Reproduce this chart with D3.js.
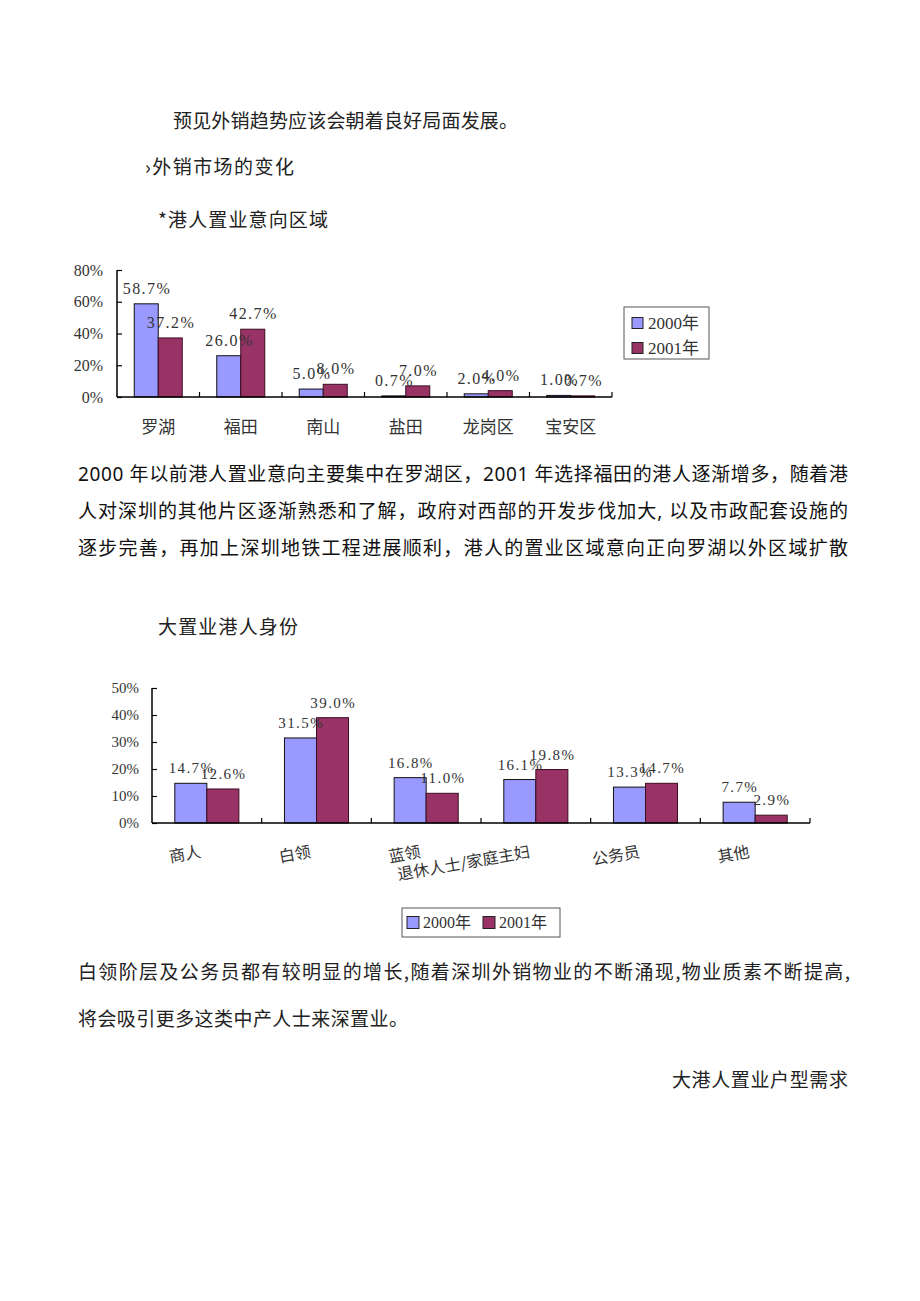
<!DOCTYPE html>
<html>
<head>
<meta charset="utf-8">
<script src="https://cdn.jsdelivr.net/npm/d3@7"></script>
<style>
html,body{margin:0;padding:0;background:#fff;}
svg{display:block;}
</style>
</head>
<body>
<svg id="page" width="920" height="1301"></svg>
<script>
// ---- Data ----
const series = ["2000年", "2001年"];
const regionCats = ["罗湖", "福田", "南山", "盐田", "龙岗区", "宝安区"];
const region2000 = [58.7, 26.0, 5.0, 0.7, 2.0, 1.0];
const region2001 = [37.2, 42.7, 8.0, 7.0, 4.0, 0.7];
const regionTicks = [0, 20, 40, 60, 80];

const idCats = ["商人", "白领", "蓝领", "退休人士/家庭主妇", "公务员", "其他"];
const id2000 = [14.7, 31.5, 16.8, 16.1, 13.3, 7.7];
const id2001 = [12.6, 39.0, 11.0, 19.8, 14.7, 2.9];
const idTicks = [0, 10, 20, 30, 40, 50];

const colors = ["#9999FF", "#993366"];

const svg = d3.select("#page");
const CJK = "'Noto Sans CJK SC', sans-serif";
const SERIF = "'Liberation Serif', 'Noto Sans CJK SC', serif";
const BODY = "'Noto Sans', 'Noto Sans CJK SC', sans-serif";

// ---- Page text ----
function txt(x, y, s, size, opts = {}) {
  const t = svg.append("text").attr("x", x).attr("y", y)
    .attr("font-family", opts.family || CJK)
    .attr("font-size", size)
    .attr("fill", opts.fill || "#222")
    .attr("dominant-baseline", "central")
    .text(s);
  if (opts.len) t.attr("textLength", opts.len).attr("lengthAdjust", "spacing");
  if (opts.anchor) t.attr("text-anchor", opts.anchor);
  return t;
}
txt(173, 119, "预见外销趋势应该会朝着良好局面发展。", 19, {len: 345});
txt(145, 165, "›外销市场的变化", 19, {len: 149});
txt(158, 218, "*港人置业意向区域", 19, {len: 170});

txt(78, 474, "2000 年以前港人置业意向主要集中在罗湖区，2001 年选择福田的港人逐渐增多，随着港", 19, {family: BODY, len: 770, fill: "#111"});
txt(78, 511, "人对深圳的其他片区逐渐熟悉和了解，政府对西部的开发步伐加大, 以及市政配套设施的", 19, {family: BODY, len: 770, fill: "#111"});
txt(78, 548, "逐步完善，再加上深圳地铁工程进展顺利，港人的置业区域意向正向罗湖以外区域扩散", 19, {family: BODY, len: 770, fill: "#111"});

txt(158, 625, "大置业港人身份", 19, {len: 140});

txt(78, 970, "白领阶层及公务员都有较明显的增长,随着深圳外销物业的不断涌现,物业质素不断提高,", 19, {len: 772});
txt(78, 1017, "将会吸引更多这类中产人士来深置业。", 19, {len: 330});
txt(848, 1078, "大港人置业户型需求", 19, {anchor: "end", len: 176});

// ---- Chart drawing helper ----
function drawChart(cfg) {
  const g = svg.append("g");
  const x0 = d3.scaleBand().domain(cfg.cats).range(cfg.xRange).padding(0);
  const step = x0.step();
  const x1 = d3.scaleBand().domain(series).range([cfg.outer, step - cfg.outer]).padding(0);
  const y = d3.scaleLinear().domain([0, cfg.yMax]).range(cfg.yRange);
  const data = cfg.cats.map((c, i) => ({cat: c, vals: [cfg.s0[i], cfg.s1[i]]}));

  // bars
  const grp = g.selectAll("g.cat").data(data).join("g")
    .attr("transform", d => `translate(${x0(d.cat)},0)`);
  grp.selectAll("rect").data(d => d.vals.map((v, k) => ({v, k})))
    .join("rect")
    .attr("x", d => x1(series[d.k]))
    .attr("width", x1.bandwidth())
    .attr("y", d => y(d.v))
    .attr("height", d => y(0) - y(d.v))
    .attr("fill", d => colors[d.k])
    .attr("stroke", d => d.k === 0 ? "#111" : "#3a0d22")
    .attr("stroke-width", 1);

  // value labels
  grp.selectAll("text.val").data(d => d.vals.map((v, k) => ({v, k})))
    .join("text").attr("class", "val")
    .attr("x", d => x1(series[d.k]) + x1.bandwidth() / 2 + 0.7)
    .attr("y", d => y(d.v) - 10)
    .attr("text-anchor", "middle")
    .attr("font-family", SERIF)
    .attr("font-size", cfg.valSize)
    .attr("letter-spacing", 1.4)
    .attr("fill", "#333")
    .text(d => d.v.toFixed(1) + "%");

  // y axis
  const yAxis = d3.axisLeft(y).tickValues(cfg.ticks).tickSize(-5).tickPadding(cfg.tickPad)
    .tickFormat(d => d + "%");
  const ya = g.append("g").attr("transform", `translate(${cfg.xRange[0]},0)`).call(yAxis);
  ya.select(".domain").attr("stroke", "#000").attr("stroke-width", 1.5).attr("d", `M0,${cfg.yRange[1]}V${cfg.yRange[0]}`);
  ya.selectAll(".tick line").attr("stroke", "#000").attr("stroke-width", 1.2);
  ya.selectAll(".tick text").attr("font-family", SERIF).attr("font-size", cfg.tickSize).attr("fill", "#333");

  // x axis
  const xAxis = d3.axisBottom(x0).tickSize(0).tickFormat("");
  const xa = g.append("g").attr("transform", `translate(0,${cfg.yRange[0]})`).call(xAxis);
  xa.select(".domain").attr("stroke", "#000").attr("stroke-width", 1.5).attr("d", `M${cfg.xRange[0]},0H${cfg.xRange[1]}`);
  // category boundary ticks (inside)
  xa.selectAll("line.bt").data(cfg.cats).join("line").attr("class", "bt")
    .attr("x1", d => x0(d) + step).attr("x2", d => x0(d) + step)
    .attr("y1", 0).attr("y2", -5).attr("stroke", "#000").attr("stroke-width", 1.2);

  return {g, x0, step};
}

// ---- Chart 1 ----
const c1 = drawChart({
  cats: regionCats, s0: region2000, s1: region2001,
  xRange: [117, 612], yRange: [397, 270], yMax: 80, outer: 17.25,
  ticks: regionTicks, valSize: 16, tickSize: 16, tickPad: 14
});
c1.g.selectAll("text.cl").data(regionCats).join("text").attr("class", "cl")
  .attr("x", d => c1.x0(d) + c1.step / 2)
  .attr("y", 425)
  .attr("text-anchor", "middle")
  .attr("dominant-baseline", "central")
  .attr("font-family", CJK)
  .attr("font-size", 17)
  .attr("fill", "#333")
  .text(d => d);

// legend 1
const lg1 = svg.append("g");
lg1.append("rect").attr("x", 624).attr("y", 307).attr("width", 85).attr("height", 52)
  .attr("fill", "#fff").attr("stroke", "#555").attr("stroke-width", 1);
series.forEach((s, i) => {
  const cy = 323 + i * 25;
  lg1.append("rect").attr("x", 632).attr("y", cy - 5.5).attr("width", 11).attr("height", 11)
    .attr("fill", colors[i]).attr("stroke", "#222").attr("stroke-width", 1);
  lg1.append("text").attr("x", 648).attr("y", cy).attr("dominant-baseline", "central")
    .attr("font-family", SERIF).attr("font-size", 17).attr("fill", "#333").text(s);
});

// ---- Chart 2 ----
const c2 = drawChart({
  cats: idCats, s0: id2000, s1: id2001,
  xRange: [152, 810], yRange: [823, 688], yMax: 50, outer: 22.8,
  ticks: idTicks, valSize: 15, tickSize: 15, tickPad: 13
});
c2.g.selectAll("text.cl").data(idCats).join("text").attr("class", "cl")
  .attr("transform", d => `translate(${c2.x0(d) + c2.step / 2 - 5},857) rotate(-10)`)
  .attr("text-anchor", "end")
  .attr("font-family", CJK)
  .attr("font-size", 16)
  .attr("fill", "#333")
  .text(d => d);

// legend 2
const lg2 = svg.append("g");
lg2.append("rect").attr("x", 402).attr("y", 908).attr("width", 158).attr("height", 29)
  .attr("fill", "#fff").attr("stroke", "#555").attr("stroke-width", 1);
series.forEach((s, i) => {
  const sx = i === 0 ? 407 : 483;
  lg2.append("rect").attr("x", sx).attr("y", 916.5).attr("width", 12).attr("height", 12)
    .attr("fill", colors[i]).attr("stroke", "#222").attr("stroke-width", 1);
  lg2.append("text").attr("x", sx + 16).attr("y", 922.5).attr("dominant-baseline", "central")
    .attr("font-family", SERIF).attr("font-size", 16).attr("fill", "#333").text(s);
});
</script>
</body>
</html>
